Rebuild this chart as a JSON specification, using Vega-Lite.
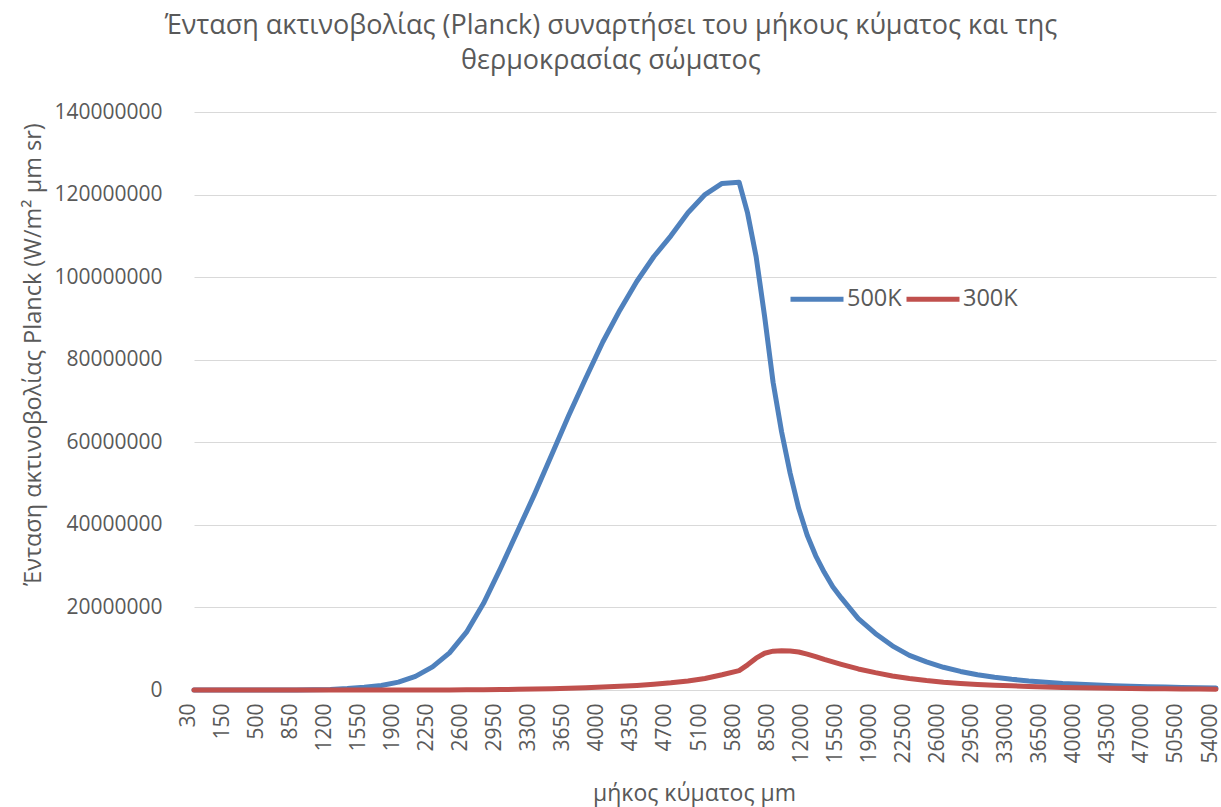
{
  "$schema": "https://vega.github.io/schema/vega-lite/v6.json",
  "width": 1036,
  "height": 578,
  "autosize": {"type": "none"},
  "padding": {"left": 182, "top": 112, "right": 3, "bottom": 117},
  "background": "white",
  "config": {"view": {"stroke": null}, "font": "Open Sans"},
  "title": {
    "text": ["Ένταση ακτινοβολίας (Planck) συναρτήσει του μήκους κύματος και της", "θερμοκρασίας σώματος"],
    "anchor": "middle",
    "frame": "group",
    "dx": -89,
    "offset": 26,
    "font": "Open Sans",
    "fontSize": 27,
    "fontWeight": "normal",
    "color": "#595959",
    "lineHeight": 35
  },
  "data": {
    "values": [
      {"wl": 30, "500K": 0, "300K": 0},
      {"wl": 90, "500K": 0, "300K": 0},
      {"wl": 150, "500K": 0, "300K": 0},
      {"wl": 325, "500K": 0, "300K": 0},
      {"wl": 500, "500K": 0, "300K": 0},
      {"wl": 675, "500K": 0, "300K": 0},
      {"wl": 850, "500K": 0, "300K": 0},
      {"wl": 1025, "500K": 50000, "300K": 0},
      {"wl": 1200, "500K": 150000, "300K": 0},
      {"wl": 1375, "500K": 350000, "300K": 0},
      {"wl": 1550, "500K": 650000, "300K": 0},
      {"wl": 1725, "500K": 1100000, "300K": 0},
      {"wl": 1900, "500K": 1900000, "300K": 0},
      {"wl": 2075, "500K": 3300000, "300K": 10000},
      {"wl": 2250, "500K": 5600000, "300K": 20000},
      {"wl": 2425, "500K": 9000000, "300K": 30000},
      {"wl": 2600, "500K": 14000000, "300K": 50000},
      {"wl": 2775, "500K": 21000000, "300K": 80000},
      {"wl": 2950, "500K": 29500000, "300K": 120000},
      {"wl": 3125, "500K": 38500000, "300K": 170000},
      {"wl": 3300, "500K": 47500000, "300K": 240000},
      {"wl": 3475, "500K": 57000000, "300K": 320000},
      {"wl": 3650, "500K": 66500000, "300K": 420000},
      {"wl": 3825, "500K": 75500000, "300K": 550000},
      {"wl": 4000, "500K": 84300000, "300K": 700000},
      {"wl": 4175, "500K": 92000000, "300K": 880000},
      {"wl": 4350, "500K": 99000000, "300K": 1100000},
      {"wl": 4525, "500K": 105000000, "300K": 1400000},
      {"wl": 4700, "500K": 110000000, "300K": 1750000},
      {"wl": 4900, "500K": 115600000, "300K": 2200000},
      {"wl": 5100, "500K": 120000000, "300K": 2800000},
      {"wl": 5450, "500K": 122700000, "300K": 3700000},
      {"wl": 5800, "500K": 123000000, "300K": 4700000},
      {"wl": 6475, "500K": 115500000, "300K": 6100000},
      {"wl": 7150, "500K": 105000000, "300K": 7700000},
      {"wl": 7825, "500K": 90500000, "300K": 8900000},
      {"wl": 8500, "500K": 74500000, "300K": 9400000},
      {"wl": 9375, "500K": 62500000, "300K": 9500000},
      {"wl": 10250, "500K": 52500000, "300K": 9450000},
      {"wl": 11125, "500K": 44000000, "300K": 9200000},
      {"wl": 12000, "500K": 37500000, "300K": 8700000},
      {"wl": 12875, "500K": 32500000, "300K": 8100000},
      {"wl": 13750, "500K": 28500000, "300K": 7400000},
      {"wl": 14625, "500K": 25000000, "300K": 6800000},
      {"wl": 15500, "500K": 22300000, "300K": 6200000},
      {"wl": 17250, "500K": 17300000, "300K": 5100000},
      {"wl": 19000, "500K": 13700000, "300K": 4200000},
      {"wl": 20750, "500K": 10700000, "300K": 3400000},
      {"wl": 22500, "500K": 8400000, "300K": 2800000},
      {"wl": 24250, "500K": 6800000, "300K": 2300000},
      {"wl": 26000, "500K": 5500000, "300K": 1900000},
      {"wl": 27750, "500K": 4500000, "300K": 1600000},
      {"wl": 29500, "500K": 3700000, "300K": 1350000},
      {"wl": 31250, "500K": 3100000, "300K": 1150000},
      {"wl": 33000, "500K": 2600000, "300K": 1000000},
      {"wl": 34750, "500K": 2200000, "300K": 850000},
      {"wl": 36500, "500K": 1900000, "300K": 730000},
      {"wl": 38250, "500K": 1600000, "300K": 630000},
      {"wl": 40000, "500K": 1400000, "300K": 550000},
      {"wl": 41750, "500K": 1200000, "300K": 480000},
      {"wl": 43500, "500K": 1050000, "300K": 420000},
      {"wl": 45250, "500K": 920000, "300K": 370000},
      {"wl": 47000, "500K": 800000, "300K": 330000},
      {"wl": 48750, "500K": 700000, "300K": 290000},
      {"wl": 50500, "500K": 620000, "300K": 260000},
      {"wl": 52250, "500K": 550000, "300K": 230000},
      {"wl": 54000, "500K": 480000, "300K": 210000}
    ]
  },
  "transform": [{"fold": ["500K", "300K"], "as": ["series", "value"]}],
  "mark": {"type": "line", "strokeWidth": 5, "strokeCap": "round", "strokeJoin": "round"},
  "encoding": {
    "x": {
      "field": "wl",
      "type": "quantitative",
      "scale": {
        "type": "linear",
        "nice": false,
        "zero": false,
        "clamp": false,
        "domain": [30, 150, 500, 850, 1200, 1550, 1900, 2250, 2600, 2950, 3300, 3650, 4000, 4350, 4700, 5100, 5800, 8500, 12000, 15500, 19000, 22500, 26000, 29500, 33000, 36500, 40000, 43500, 47000, 50500, 54000],
        "range": [12, 46.1, 80.1, 114.2, 148.3, 182.3, 216.4, 250.5, 284.5, 318.6, 352.7, 386.7, 420.8, 454.9, 488.9, 523, 557.1, 591.1, 625.2, 659.3, 693.3, 727.4, 761.5, 795.5, 829.6, 863.7, 897.7, 931.8, 965.9, 999.9, 1034]
      },
      "axis": {
        "values": [30, 150, 500, 850, 1200, 1550, 1900, 2250, 2600, 2950, 3300, 3650, 4000, 4350, 4700, 5100, 5800, 8500, 12000, 15500, 19000, 22500, 26000, 29500, 33000, 36500, 40000, 43500, 47000, 50500, 54000],
        "format": "d",
        "labelAngle": -90,
        "labelOffset": -6,
        "labelPadding": 13,
        "labelFont": "Open Sans",
        "labelFontSize": 21,
        "labelColor": "#595959",
        "labelOverlap": false,
        "labelBound": false,
        "labelFlush": false,
        "ticks": false,
        "domain": false,
        "grid": false,
        "title": "μήκος κύματος μm",
        "titleFont": "Open Sans",
        "titleFontSize": 23,
        "titleFontWeight": "normal",
        "titleColor": "#595959",
        "titleBaseline": "alphabetic",
        "titleX": 512,
        "titleY": 110
      }
    },
    "y": {
      "field": "value",
      "type": "quantitative",
      "scale": {"domain": [0, 140000000], "nice": false},
      "axis": {
        "values": [0, 20000000, 40000000, 60000000, 80000000, 100000000, 120000000, 140000000],
        "format": "d",
        "labelFont": "Open Sans",
        "labelFontSize": 21,
        "labelColor": "#595959",
        "labelPadding": 20,
        "ticks": false,
        "domain": false,
        "grid": true,
        "gridColor": "#D9D9D9",
        "gridWidth": 1,
        "title": "Ένταση ακτινοβολίας Planck (W/m² μm sr)",
        "titleFont": "Open Sans",
        "titleFontSize": 23.5,
        "titleFontWeight": "normal",
        "titleColor": "#595959",
        "titleBaseline": "alphabetic",
        "titleX": -142,
        "titleY": 242
      }
    },
    "color": {
      "field": "series",
      "type": "nominal",
      "sort": ["500K", "300K"],
      "scale": {"domain": ["500K", "300K"], "range": ["#4F81BD", "#C0504D"]},
      "legend": {
        "title": null,
        "orient": "none",
        "direction": "horizontal",
        "legendX": 606,
        "legendY": 158,
        "symbolType": "stroke",
        "symbolSize": 2809,
        "symbolStrokeWidth": 5,
        "labelFont": "Open Sans",
        "labelFontSize": 23.5,
        "labelColor": "#595959",
        "labelOffset": 1,
        "columnPadding": -6,
        "padding": 0
      }
    }
  }
}
